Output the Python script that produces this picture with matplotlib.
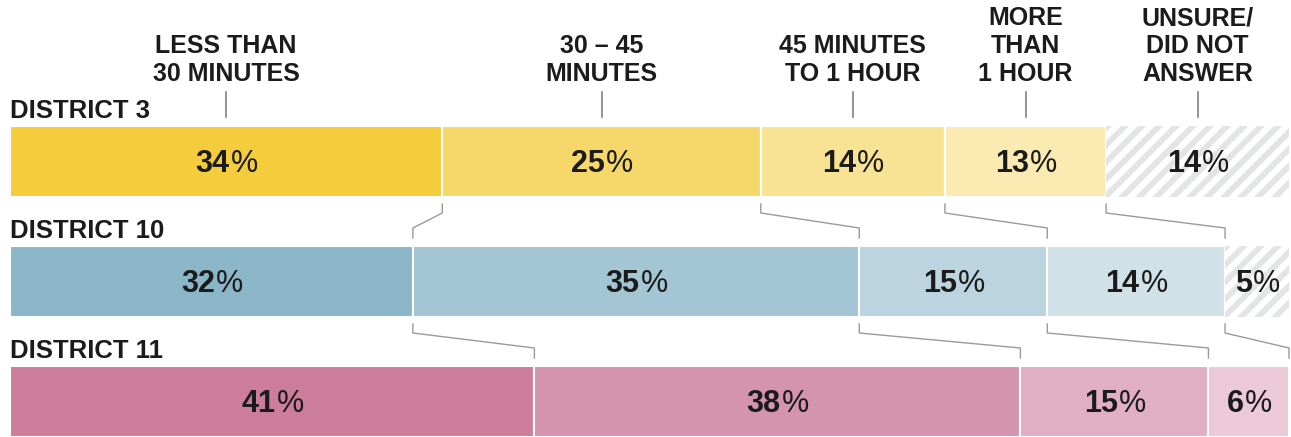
import matplotlib
matplotlib.use("Agg")
import matplotlib.pyplot as plt
import numpy as np

plt.rcParams['font.family'] = ['Liberation Sans', 'DejaVu Sans']

# ---- data ----
categories = ["LESS THAN\n30 MINUTES", "30 – 45\nMINUTES", "45 MINUTES\nTO 1 HOUR",
              "MORE\nTHAN\n1 HOUR", "UNSURE/\nDID NOT\nANSWER"]
districts = ["DISTRICT 3", "DISTRICT 10", "DISTRICT 11"]
# displayed (rounded) labels
labels_d3 = [34, 25, 14, 13, 14]
labels_d10 = [32, 35, 15, 14, 5]
labels_d11 = [41, 38, 15, 6, 0]
# underlying shares (as drawn)
share_d3 = [33.8, 24.9, 14.4, 12.6, 14.3]
share_d10 = [31.5, 34.9, 14.7, 13.9, 5.0]
share_d11 = [41.0, 38.0, 14.7, 6.3, 0.0]

labels = [labels_d3, labels_d10, labels_d11]
shares = [share_d3, share_d10, share_d11]

colors = [
    ["#F4CC3C", "#F6D86A", "#F8E293", "#FBEAB1", "hatch"],
    ["#8BB6C8", "#A3C5D4", "#BBD4DF", "#D1E1E8", "hatch"],
    ["#CB7D9A", "#D594AE", "#E1AFC3", "#ECC9D7", "hatch"],
]

# ---- layout (pixels) ----
W, H = 1291, 437
X0, X1 = 10, 1289
SCALE = (X1 - X0) / 100.0
bar_tops = [126, 246, 366]
bar_h = 71
text_color = "#1b1b1b"

fig = plt.figure(figsize=(W / 100, H / 100), dpi=100)
ax = fig.add_axes([0, 0, 1, 1])
ax.set_xlim(-X0 / SCALE, (W - X0) / SCALE)
ax.set_ylim(H, 0)
ax.axis("off")

def px_to_data(px):
    return (px - X0) / SCALE

renderer = fig.canvas.get_renderer()
cums = []
for r, vals in enumerate(shares):
    v = np.array(vals, dtype=float)
    v = v / v.sum() * 100
    lefts = np.concatenate([[0], np.cumsum(v)[:-1]])
    cums.append(np.cumsum(v))
    yc = bar_tops[r] + bar_h / 2
    for i, (lv, wv) in enumerate(zip(lefts, v)):
        if wv <= 0:
            continue
        c = colors[r][i]
        if c == "hatch":
            bars = ax.barh(yc, wv, left=lv, height=bar_h, color="white",
                           edgecolor="white", linewidth=1.5)
            rect = bars.patches[0]
            x_start = X0 + lv * SCALE
            x_end = X0 + (lv + wv) * SCALE
            period = 17
            xs = np.arange(x_start - bar_h - period, x_end + period, period)
            for xx in xs:
                ln, = ax.plot([px_to_data(xx), px_to_data(xx + bar_h + 4)],
                              [bar_tops[r] + bar_h + 2, bar_tops[r] - 2],
                              color="#E3E4E6", lw=4.2, solid_capstyle="butt", zorder=1.5)
                ln.set_clip_path(rect)
        else:
            ax.barh(yc, wv, left=lv, height=bar_h, color=c, edgecolor="white",
                    linewidth=1.5)
        # label: bold number + regular percent sign
        num = f"{labels[r][i]}"
        cx_px = X0 + (lv + wv / 2) * SCALE
        ty = yc + 11
        t1 = ax.text(0, ty, num, fontsize=22, fontweight="bold", color=text_color,
                     ha="left", va="baseline", zorder=5)
        t2 = ax.text(0, ty, "%", fontsize=22, color=text_color,
                     ha="left", va="baseline", zorder=5)
        w1 = t1.get_window_extent(renderer).width
        w2 = t2.get_window_extent(renderer).width
        left_px = cx_px - (w1 + w2) / 2
        t1.set_x(px_to_data(left_px))
        t2.set_x(px_to_data(left_px + w1 + 1))

    ax.text(px_to_data(X0), bar_tops[r] - 8, districts[r], fontsize=18.5,
            fontweight="bold", color=text_color, ha="left", va="baseline")

# ---- connectors ----
for r in range(len(shares) - 1):
    top_bottom = bar_tops[r] + bar_h
    next_top = bar_tops[r + 1]
    ys = [top_bottom + 7, top_bottom + 16, next_top - 18, next_top - 8]
    for k in range(4):
        xa = cums[r][k]
        xb = cums[r + 1][k]
        ax.plot([xa, xa, xb, xb], ys, color="#9a9a9a", lw=1.0,
                solid_joinstyle="round")

# ---- headers ----
d3 = np.array(share_d3, dtype=float)
d3 = d3 / d3.sum() * 100
d3_lefts = np.concatenate([[0], np.cumsum(d3)[:-1]])
for i, cat in enumerate(categories):
    cx = d3_lefts[i] + d3[i] / 2
    ax.text(cx, 81, cat, fontsize=18, fontweight="bold", color=text_color,
            ha="center", va="baseline", linespacing=1.2, multialignment="center")
    ax.plot([cx, cx], [92, 117], color="#808080", lw=1.2)

fig.savefig("out.png", dpi=100)
